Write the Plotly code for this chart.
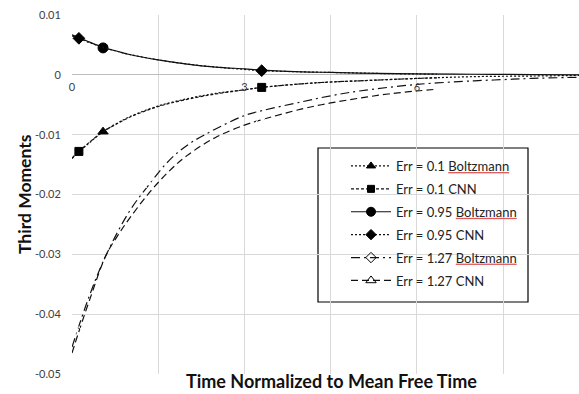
import plotly.graph_objects as go

# ---- data ----
x_b01 = [0, 0.25, 0.54, 0.8, 1.0, 1.5, 2.0, 2.5, 3.0, 3.3, 4.0, 4.5, 5.0, 6.0, 7.0, 8.0, 8.82]
y_b01 = [-0.0140, -0.0118, -0.0095, -0.0080, -0.0070, -0.0052, -0.0040, -0.0031, -0.0025, -0.0021,
         -0.0015, -0.0012, -0.0010, -0.0006, -0.0003, -0.0002, -0.0001]
mx_b01 = [0.54]
my_b01 = [-0.0095]

x_c01 = [0, 0.12, 0.3, 0.54, 0.8, 1.0, 1.5, 2.0, 2.5, 3.0, 3.3, 4.0, 4.5, 5.0, 5.5, 6.0, 6.35]
y_c01 = [-0.0139, -0.0128, -0.0113, -0.0095, -0.0081, -0.0071, -0.0053, -0.0041, -0.0032, -0.0025,
         -0.0021, -0.0015, -0.0012, -0.0010, -0.0008, -0.0006, -0.0005]
mx_c01 = [0.12, 3.3]
my_c01 = [-0.0128, -0.0021]

x_b095 = [0, 0.25, 0.54, 0.8, 1.0, 1.5, 2.0, 2.5, 3.0, 3.3, 4.0, 4.5, 5.0, 6.0, 7.0, 8.0, 8.82]
y_b095 = [0.0067, 0.0057, 0.0046, 0.0039, 0.0034, 0.0025, 0.0018, 0.0013, 0.0010, 0.0008,
          0.0005, 0.0004, 0.0003, 0.00015, 0.0001, 0.00005, 0.0]
mx_b095 = [0.54]
my_b095 = [0.0045]

x_c095 = [0, 0.12, 0.3, 0.54, 0.8, 1.0, 1.5, 2.0, 2.5, 3.0, 3.3, 4.0, 4.5, 5.0, 5.5, 6.0, 6.35]
y_c095 = [0.0065, 0.0061, 0.0054, 0.0046, 0.0039, 0.0034, 0.0025, 0.0018, 0.0013, 0.0009,
          0.0007, 0.0005, 0.0004, 0.0003, 0.0002, 0.00015, 0.0001]
mx_c095 = [0.12, 3.3]
my_c095 = [0.0061, 0.0007]

x_b127 = [0, 0.3, 0.59, 1.0, 1.345, 1.7, 2.0, 2.31, 3.0, 3.3, 4.0, 4.5, 5.0, 6.0, 7.0, 7.5, 8.0, 8.82]
y_b127 = [-0.0455, -0.0370, -0.0302, -0.0228, -0.0183, -0.0142, -0.0118, -0.0100, -0.0068, -0.0060,
          -0.0045, -0.0035, -0.0027, -0.0016, -0.0010, -0.0008, -0.0006, -0.0004]
mx_b127 = [1.345]
my_b127 = [-0.0183]

x_c127 = [0, 0.12, 0.3, 0.59, 0.8, 1.0, 1.345, 1.7, 2.0, 2.49, 3.0, 3.3, 4.0, 4.5, 5.0, 5.5, 6.0, 6.35]
y_c127 = [-0.0465, -0.0429, -0.0378, -0.0302, -0.0268, -0.0240, -0.0197, -0.0160, -0.0135, -0.0105,
          -0.0084, -0.0075, -0.0057, -0.0047, -0.0039, -0.0032, -0.0027, -0.0024]
mx_c127 = [0.12, 3.3]
my_c127 = [-0.0429, -0.0075]

y_ticks = [0.01, 0, -0.01, -0.02, -0.03, -0.04, -0.05]
y_ticktext = ["0.01", "0", "-0.01", "-0.02", "-0.03", "-0.04", "-0.05"]
x_grid = [0, 1.5, 3, 4.5, 6, 7.5]
x_labels = [0, 3, 6]

U = ('<span style="text-decoration:underline;fill:#e05a5a;color:#e05a5a">'
     '<span style="fill:#222222;color:#222222">Boltzmann</span></span>')
series = [
    ("Err = 0.1 " + U, x_b01, y_b01, mx_b01, my_b01, "2px,2px", "triangle-up", 9),
    ("Err = 0.1 CNN", x_c01, y_c01, mx_c01, my_c01, "3px,2px", "square", 8),
    ("Err = 0.95 " + U, x_b095, y_b095, mx_b095, my_b095, "solid", "circle", 10),
    ("Err = 0.95 CNN", x_c095, y_c095, mx_c095, my_c095, "2px,2px", "diamond", 9),
    ("Err = 1.27 " + U, x_b127, y_b127, mx_b127, my_b127, "9px,4px,2px,4px", "diamond-open", 9),
    ("Err = 1.27 CNN", x_c127, y_c127, mx_c127, my_c127, "7px,4px", "triangle-up-open", 10),
]

fig = go.Figure()
for i, (name, xs, ys, mxs, mys, dash, sym, ms) in enumerate(series):
    fig.add_trace(go.Scatter(x=xs, y=ys, mode="lines", showlegend=False,
                             line=dict(color="#111111", width=1.2, dash=dash, shape="spline"),
                             hoverinfo="skip"))
    fig.add_trace(go.Scatter(x=mxs, y=mys, mode="markers", showlegend=False,
                             marker=dict(symbol=sym, size=ms, color="#000000" if "open" not in sym else "#ffffff",
                                         line=dict(color="#000000", width=1))))
    fig.add_trace(go.Scatter(x=[None], y=[None], mode="lines+markers", name=name,
                             legendgroup=f"g{i}",
                             line=dict(color="#111111", width=1.2, dash=dash),
                             marker=dict(symbol=sym, size=ms - 1, color="#000000",
                                         line=dict(color="#000000", width=1))))

# dummy trace to make xaxis2 exist
fig.add_trace(go.Scatter(x=[None], y=[None], xaxis="x2", showlegend=False))

L, R, T, B, W, H = 72, 0, 15, 20, 579, 394
pw, ph = W - L - R, H - T - B

def px_x(p):
    return (p - L) / pw

def px_y(p):
    return (H - B - p) / ph

fig.update_layout(
    width=W, height=H,
    margin=dict(l=L, r=R, t=T, b=B, pad=0),
    paper_bgcolor="white", plot_bgcolor="white",
    font=dict(family="Lato, Liberation Sans, sans-serif", color="#222222"),
    xaxis=dict(range=[0, 8.82], tickvals=x_grid, showticklabels=False, showgrid=True,
               gridcolor="#d9d9d9", gridwidth=1, zeroline=False, showline=False, ticks=""),
    xaxis2=dict(overlaying="x", matches="x", anchor="free", position=px_y(74), side="bottom",
                tickvals=x_labels, ticktext=[str(v) for v in x_labels], showgrid=False,
                zeroline=False, showline=False, ticks="outside", ticklen=3, tickcolor="rgba(0,0,0,0)",
                tickfont=dict(size=11, color="#404040")),
    yaxis=dict(range=[-0.05, 0.01], tickvals=y_ticks, ticktext=y_ticktext, showgrid=True,
               gridcolor="#d9d9d9", gridwidth=1, zeroline=True, zerolinecolor="#bdbdbd",
               zerolinewidth=1.2, showline=False, ticks="outside", ticklen=8,
               tickcolor="rgba(0,0,0,0)", tickfont=dict(size=11, color="#404040")),
    legend=dict(x=px_x(346), y=px_y(151), xanchor="left", yanchor="top",
                bgcolor="rgba(0,0,0,0)", borderwidth=0, itemwidth=40,
                traceorder="grouped", tracegroupgap=3,
                font=dict(size=13, color="#222222")),
    shapes=[dict(type="rect", xref="paper", yref="paper",
                 x0=px_x(318), x1=px_x(528), y0=px_y(302), y1=px_y(148),
                 line=dict(color="#000000", width=1.2), fillcolor="white", layer="between")],
    annotations=[
        dict(text="<b>Time Normalized to Mean Free Time</b>", xref="paper", yref="paper",
             x=px_x(331), y=px_y(393), xanchor="center", yanchor="bottom", showarrow=False,
             borderpad=0, font=dict(size=18, color="#111111")),
        dict(text="<b>Third Moments</b>", xref="paper", yref="paper",
             x=px_x(24), y=px_y(194), xanchor="center", yanchor="middle", showarrow=False,
             textangle=-90, font=dict(size=17.5, color="#111111")),
    ],
)

fig.write_html("out.html")
